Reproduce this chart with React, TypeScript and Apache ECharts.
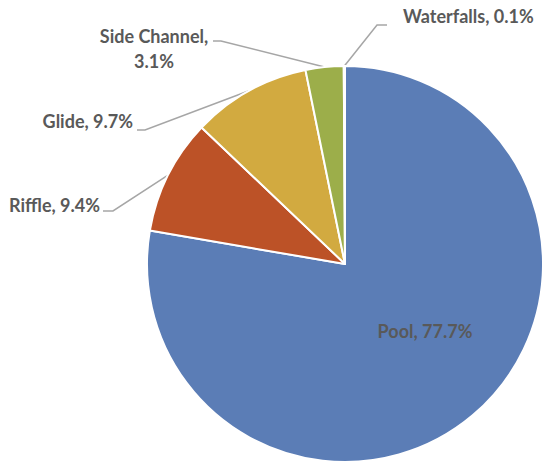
import React, { useEffect, useRef } from "react";
import * as echarts from "echarts";

const categories = ["Pool", "Riffle", "Glide", "Side Channel", "Waterfalls"];
const values = [77.7, 9.4, 9.7, 3.1, 0.1];
const colors = ["#5B7DB6", "#BC5227", "#D2AA40", "#9CAE4A", "#A5A5A5"];

// label placement (layout only)
const labelSpots: any[] = [
  { x: 425, y: 331, align: "center", line: null },
  { x: 100, y: 205, align: "right", line: [[113, 211], [103, 211]] },
  { x: 133, y: 121, align: "right", line: [[145, 130], [137, 130]] },
  { x: 154, y: 48, align: "center", line: [[221, 41], [213, 41]] },
  { x: 403, y: 16, align: "left", line: [[377, 25], [387, 25]] },
];

export default function App() {
  const ref = useRef<HTMLDivElement>(null);
  useEffect(() => {
    if (!ref.current) return;
    const chart = echarts.init(ref.current, undefined, { renderer: "svg" });
    chart.setOption({
      animation: false,
      backgroundColor: "#ffffff",
      series: [
        {
          type: "pie",
          center: [345, 264],
          radius: 198,
          startAngle: 90,
          clockwise: true,
          avoidLabelOverlap: false,
          itemStyle: { borderColor: "#ffffff", borderWidth: 2 },
          label: {
            show: true,
            position: "outside",
            color: "#595959",
            fontFamily: "Lato",
            fontWeight: "bold",
            fontSize: 18,
            lineHeight: 25,
            formatter: (p: any) =>
              p.name === "Side Channel"
                ? `${p.name},\n${p.value}%`
                : `${p.name}, ${p.value}%`,
          },
          labelLine: {
            show: true,
            length: 10,
            length2: 10,
            lineStyle: { color: "#A6A6A6", width: 1.5 },
          },
          labelLayout: (params: any) => {
            const s = labelSpots[params.dataIndex];
            const out: any = {
              x: s.x,
              y: s.y,
              align: s.align,
              verticalAlign: "middle",
            };
            if (s.line && params.labelLinePoints) {
              const start = params.labelLinePoints[0];
              out.labelLinePoints = [start, s.line[0], s.line[1]];
            }
            return out;
          },
          data: categories.map((name, i) => ({
            name,
            value: values[i],
            itemStyle: { color: colors[i] },
            labelLine: { show: i !== 0 },
          })),
        },
      ],
    });
    return () => chart.dispose();
  }, []);
  return (
    <div
      ref={ref}
      style={{ position: "fixed", left: 0, top: 0, width: 542, height: 464 }}
    />
  );
}
